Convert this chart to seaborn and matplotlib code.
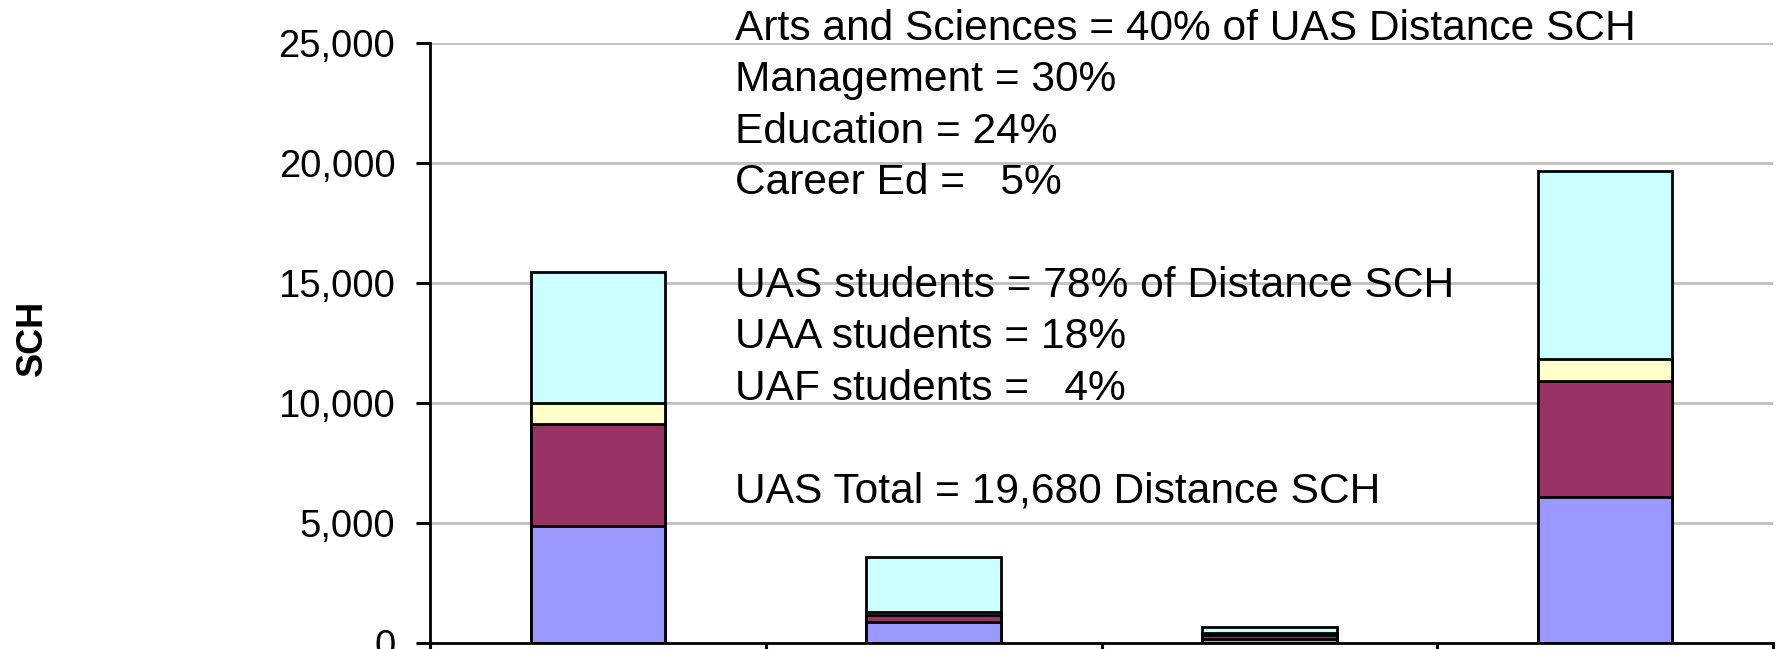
import matplotlib
matplotlib.use("Agg")
import matplotlib.pyplot as plt
import seaborn as sns
import numpy as np

# student origin groups (x categories) and college segments (stacked, bottom -> top)
groups = ["UAS students", "UAA students", "UAF students", "UAS Total"]
management = [4890, 890, 150, 6080]
education = [4250, 270, 170, 4830]
career_ed = [840, 140, 90, 930]
arts_sciences = [5480, 2280, 240, 7840]

segments = [
    ("Management", management, "#9999FF"),
    ("Education", education, "#993366"),
    ("Career Ed", career_ed, "#FFFFCC"),
    ("Arts and Sciences", arts_sciences, "#CCFFFF"),
]

notes = [
    "Arts and Sciences = 40% of UAS Distance SCH",
    "Management = 30%",
    "Education = 24%",
    "Career Ed =   5%",
    "",
    "UAS students = 78% of Distance SCH",
    "UAA students = 18%",
    "UAF students =   4%",
    "",
    "UAS Total = 19,680 Distance SCH",
]

sns.set_style("white")
plt.rcParams['font.family'] = ['Liberation Sans', 'DejaVu Sans']
plt.rcParams['text.color'] = 'black'
plt.rcParams['xtick.color'] = 'black'
plt.rcParams['ytick.color'] = 'black'

W, H = 1784, 649
fig = plt.figure(figsize=(W / 100, H / 100), dpi=100)
ax = fig.add_axes([430 / W, 6 / H, 1343 / W, 600 / H])

# cumulative heights, drawn from the top layer down so lower layers sit on top
cum = np.cumsum([s[1] for s in segments], axis=0)
for i in range(len(segments) - 1, -1, -1):
    sns.barplot(x=groups, y=cum[i], color=segments[i][2], width=0.4,
                edgecolor="black", linewidth=2.0, saturation=1, ax=ax)

ax.set_ylim(0, 25000)
ax.set_xlim(-0.5, 3.5)
ax.set_yticks(range(0, 25001, 5000))
ax.set_yticklabels([f"{v:,}" for v in range(0, 25001, 5000)], fontsize=27.5)
ax.set_xticks([-0.5, 0.5, 1.5, 2.5, 3.5])
ax.set_xticklabels([])
ax.set_xlabel("")
ax.set_ylabel("")

ax.yaxis.grid(True, color="#C0C0C0", linewidth=2.0)
ax.set_axisbelow(True)
for side in ["top", "right"]:
    ax.spines[side].set_visible(False)
for side in ["left", "bottom"]:
    ax.spines[side].set_color("black")
    ax.spines[side].set_linewidth(2.0)
ax.tick_params(axis="both", direction="out", length=10, width=2.2,
               left=True, bottom=True, pad=15, labelcolor="black")

fig.text(32 / W, 1 - 338 / H, "SCH", rotation=90, fontsize=26, fontweight="bold",
         ha="center", va="center")

for i, line in enumerate(notes):
    if line:
        fig.text(735 / W, 1 - (40 + 51.4 * i) / H, line, fontsize=30.6,
                 ha="left", va="baseline")

fig.savefig("out.png", dpi=100)
